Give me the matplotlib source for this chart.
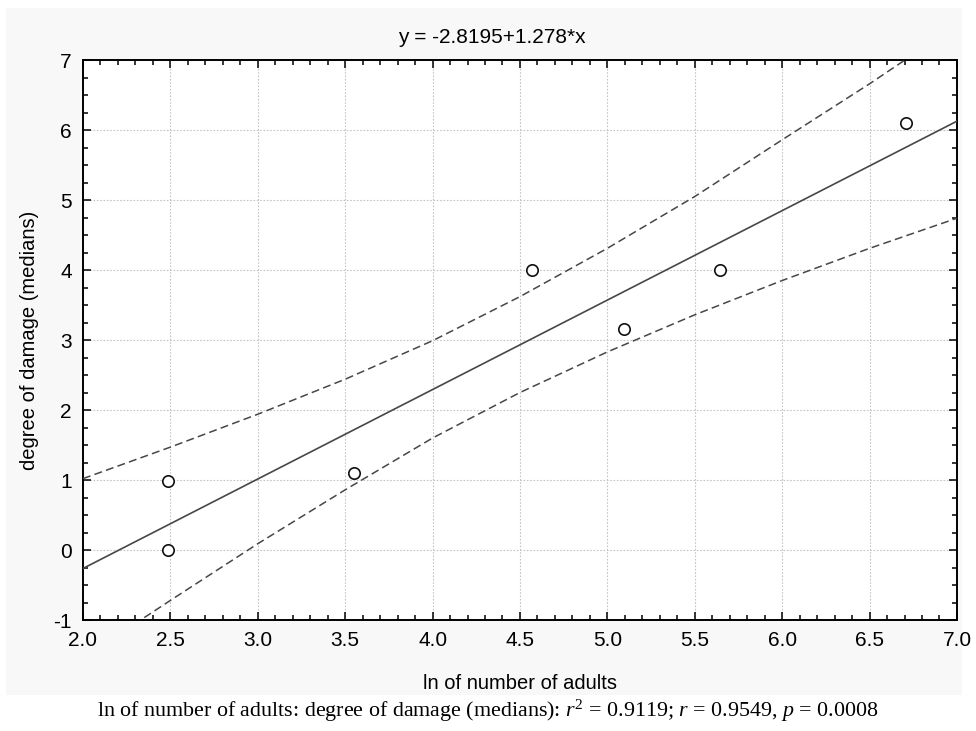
import matplotlib
matplotlib.use("Agg")
import matplotlib.pyplot as plt
from matplotlib.ticker import MultipleLocator
from matplotlib.patches import Rectangle
import numpy as np

# data
ln_adults = [2.484, 2.484, 3.548, 4.569, 5.098, 5.645, 6.710]
damage = [0.98, 0.00, 1.095, 4.00, 3.153, 4.00, 6.104]

INTERCEPT = -2.8195
SLOPE = 1.278

band_x = [2.0, 2.5, 3.0, 3.5, 4.0, 4.5, 5.0, 5.5, 6.0, 6.5, 7.0]
band_upper = [1.02, 1.47, 1.94, 2.44, 2.99, 3.62, 4.31, 5.05, 5.86, 6.66, 7.50]
band_lower = [-1.54, -0.72, 0.09, 0.86, 1.60, 2.25, 2.83, 3.36, 3.85, 4.31, 4.74]

x_ticks = [2.0, 2.5, 3.0, 3.5, 4.0, 4.5, 5.0, 5.5, 6.0, 6.5, 7.0]
y_ticks = [-1, 0, 1, 2, 3, 4, 5, 6, 7]

plt.rcParams["font.family"] = ["Liberation Sans", "DejaVu Sans"]
plt.rcParams["mathtext.fontset"] = "custom"
plt.rcParams["mathtext.rm"] = "Liberation Serif"
plt.rcParams["mathtext.it"] = "Liberation Serif:italic"

fig = plt.figure(figsize=(9.76, 7.31), dpi=100)
fig.patch.set_facecolor("white")
fig.patches.append(Rectangle((0.006, 0.049), 0.98, 0.94, transform=fig.transFigure,
                             facecolor="#f8f8f8", edgecolor="none", zorder=-10))

ax = fig.add_axes([0.085, 0.1518, 0.8955, 0.7661])
ax.set_facecolor("white")

line_x = np.array([2.0, 7.0])
ax.plot(line_x, INTERCEPT + SLOPE * line_x, color="#474747", lw=1.2, zorder=3)
ax.plot(band_x, band_upper, color="#474747", lw=1.1, dashes=(5.2, 2.8), zorder=3)
ax.plot(band_x, band_lower, color="#474747", lw=1.1, dashes=(5.2, 2.8), zorder=3)
ax.plot(ln_adults, damage, linestyle="none", marker="o", markersize=8.2,
        markerfacecolor="white", markeredgecolor="#111111", markeredgewidth=1.2, zorder=4)

ax.set_xlim(2.0, 7.0)
ax.set_ylim(-1, 7)
ax.set_xticks(x_ticks)
ax.set_xticklabels([f"{v:.1f}" for v in x_ticks])
ax.set_yticks(y_ticks)
ax.set_yticklabels([str(v) for v in y_ticks])
ax.xaxis.set_minor_locator(MultipleLocator(0.1))
ax.yaxis.set_minor_locator(MultipleLocator(0.25))
ax.tick_params(which="both", direction="in", top=True, right=True, labelsize=15,
               width=1.1, color="black")
ax.tick_params(which="major", length=6, pad=8)
ax.tick_params(which="minor", length=3.5)
for s in ax.spines.values():
    s.set_linewidth(1.4)
    s.set_color("black")
ax.grid(True, which="major", color="#c4c4c4", linestyle=(0, (1.5, 1.5)), lw=0.8)
ax.set_axisbelow(True)

fig.text(0.504, 0.949, "y = -2.8195+1.278*x", ha="center", va="center", fontsize=15)
ax.set_xlabel("ln of number of adults", fontsize=14.5, labelpad=17)
ax.set_ylabel("degree of damage (medians)", fontsize=14.5, labelpad=10)

fig.text(0.5, 0.028,
         "ln of number of adults: degree of damage (medians): $r^2$ = 0.9119; $r$ = 0.9549, $p$ = 0.0008",
         ha="center", va="center", fontsize=15.8, family="Liberation Serif")

fig.savefig("out.png", dpi=100, facecolor=fig.get_facecolor())
